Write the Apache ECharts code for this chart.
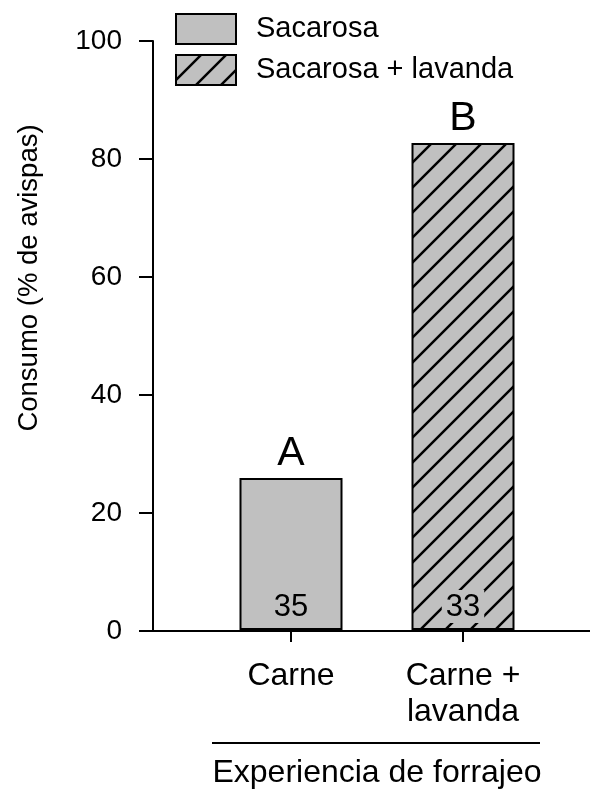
<!DOCTYPE html>
<html>
<head>
<meta charset="utf-8">
<script src="https://cdn.jsdelivr.net/npm/echarts@6/dist/echarts.min.js"></script>
<style>
  html, body { margin: 0; padding: 0; background: #fff; }
  #chart { width: 590px; height: 794px; }
</style>
</head>
<body>
<div id="chart"></div>
<script>
const categories = ['Carne', 'Carne +\nlavanda'];
const seriesNames = ['Sacarosa', 'Sacarosa + lavanda'];
const sacarosa = [25.8, '-'];
const sacarosaLavanda = ['-', 82.7];
const consumo = [25.8, 82.7];
const letters = ['A', 'B'];
const nWasps = ['35', '33'];
const yTicks = [0, 20, 40, 60, 80, 100];

const font = 'Liberation Sans, Arial, sans-serif';
const gray = '#c0c0c0';

// diagonal hatch tile
const makeHatch = () => {
  const s = 25;
  const c = document.createElement('canvas');
  c.width = s;
  c.height = s;
  const ctx = c.getContext('2d');
  ctx.fillStyle = gray;
  ctx.fillRect(0, 0, s, s);
  ctx.strokeStyle = '#000';
  ctx.lineWidth = 2.5;
  ctx.beginPath();
  ctx.moveTo(-2, s + 2); ctx.lineTo(s + 2, -2);
  ctx.moveTo(-2, 2); ctx.lineTo(2, -2);
  ctx.moveTo(s - 2, s + 2); ctx.lineTo(s + 2, s - 2);
  ctx.stroke();
  return c;
};

const chart = echarts.init(document.getElementById('chart'));

chart.setOption({
  animation: false,
  textStyle: { fontFamily: font, color: '#000' },
  legend: {
    data: seriesNames,
    orient: 'vertical',
    left: 170,
    top: 8,
    itemWidth: 60,
    itemHeight: 30,
    itemGap: 9,
    icon: 'rect',
    textStyle: { fontSize: 29, color: '#000', fontFamily: font, padding: [0, 0, 0, 15] }
  },
  grid: [
    { left: 153, top: 41, right: 0, bottom: 163 },
    { left: 205, top: 41, width: 344, bottom: 163 }
  ],
  xAxis: [
    {
      gridIndex: 0,
      type: 'category',
      data: [''],
      axisLine: { lineStyle: { color: '#000', width: 2 } },
      axisTick: { show: false },
      axisLabel: { show: false }
    },
    {
      gridIndex: 1,
      type: 'category',
      data: categories,
      axisLine: { show: false },
      axisTick: { show: true, alignWithLabel: true, length: 12, lineStyle: { color: '#000', width: 2 } },
      axisLabel: { fontSize: 32, color: '#000', fontFamily: font, margin: 28, lineHeight: 36 },
      name: 'Experiencia de forrajeo',
      nameLocation: 'middle',
      nameGap: 127,
      nameTextStyle: { fontSize: 32, color: '#000', fontFamily: font }
    }
  ],
  yAxis: [
    {
      gridIndex: 0,
      type: 'value',
      min: 0,
      max: 100,
      interval: 20,
      splitLine: { show: false },
      axisLine: { show: true, lineStyle: { color: '#000', width: 2 } },
      axisTick: { show: true, length: 14, lineStyle: { color: '#000', width: 2 } },
      axisLabel: {
        fontSize: 28, color: '#000', fontFamily: font, margin: 31,
        formatter: v => (yTicks.includes(v) ? String(v) : '')
      },
      name: 'Consumo (% de avispas)',
      nameLocation: 'middle',
      nameGap: 110,
      nameTextStyle: { fontSize: 27.5, color: '#000', fontFamily: font, padding: [0, 0, 0, 116] }
    },
    {
      gridIndex: 1,
      type: 'value',
      min: 0,
      max: 100,
      show: false
    }
  ],
  series: [
    {
      name: seriesNames[0],
      type: 'bar',
      xAxisIndex: 1,
      yAxisIndex: 1,
      data: sacarosa,
      barWidth: 103,
      barGap: '-100%',
      itemStyle: { color: gray, borderColor: '#000', borderWidth: 2 },
      label: {
        show: true, position: 'top', distance: 4, fontSize: 41, color: '#000', fontFamily: font,
        formatter: p => letters[p.dataIndex]
      }
    },
    {
      name: seriesNames[1],
      type: 'bar',
      xAxisIndex: 1,
      yAxisIndex: 1,
      data: sacarosaLavanda,
      barWidth: 103,
      barGap: '-100%',
      itemStyle: { color: { image: makeHatch(), repeat: 'repeat' }, borderColor: '#000', borderWidth: 2 },
      label: {
        show: true, position: 'top', distance: 4, fontSize: 41, color: '#000', fontFamily: font,
        formatter: p => letters[p.dataIndex]
      }
    },
    {
      name: 'n',
      type: 'bar',
      xAxisIndex: 1,
      yAxisIndex: 1,
      data: consumo,
      barWidth: 103,
      barGap: '-100%',
      itemStyle: { color: 'rgba(0,0,0,0)' },
      silent: true,
      label: {
        show: true, position: 'insideBottom', distance: 7, fontSize: 31, color: '#000', fontFamily: font,
        backgroundColor: gray, padding: [2, 4, 0, 4],
        formatter: p => nWasps[p.dataIndex]
      }
    }
  ],
  graphic: [
    {
      type: 'line',
      shape: { x1: 212, y1: 743, x2: 540, y2: 743 },
      style: { stroke: '#000', lineWidth: 2 }
    }
  ]
});
</script>
</body>
</html>
